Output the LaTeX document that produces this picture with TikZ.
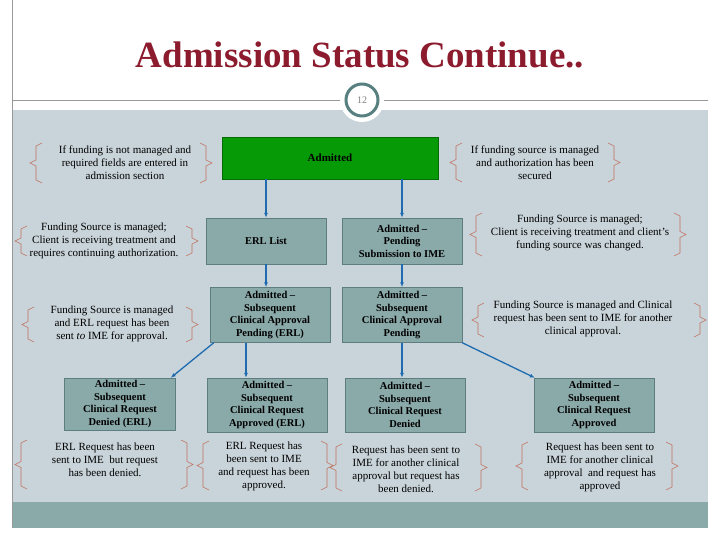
\documentclass[tikz,border=0pt]{standalone}
\usepackage{fontspec}
\setmainfont{Liberation Serif}
\definecolor{titlered}{HTML}{8C1B2E}
\definecolor{panel}{HTML}{C9D4DA}
\definecolor{strip}{HTML}{8AA9A9}
\definecolor{boxfill}{HTML}{8AA9A9}
\definecolor{boxline}{HTML}{5E7D7F}
\definecolor{admgreen}{HTML}{079A07}
\definecolor{flow}{HTML}{1E6BB0}
\definecolor{brak}{HTML}{C0705F}
\tikzset{
  state/.style={draw=boxline,fill=boxfill,align=center,font=\fontsize{10.5}{12.5}\selectfont\bfseries,inner sep=1pt},
  note/.style={align=center,font=\fontsize{11}{13}\selectfont,inner sep=0pt},
  flowline/.style={draw=flow,line width=1.3pt,-{Latex[length=5pt,width=4pt]}},
  brakline/.style={draw=brak,line width=0.6pt}
}
\usetikzlibrary{arrows.meta}
% left and right brackets: x, top y, bottom y
\newcommand{\lbrak}[3]{\draw[brakline] (#1+12,#2) -- (#1+6,#2+3) -- (#1+6,{(#2+#3)/2-3}) -- (#1,{(#2+#3)/2}) -- (#1+6,{(#2+#3)/2+3}) -- (#1+6,#3-3) -- (#1+12,#3);}
\newcommand{\rbrak}[3]{\draw[brakline] (#1-12,#2) -- (#1-6,#2+3) -- (#1-6,{(#2+#3)/2-3}) -- (#1,{(#2+#3)/2}) -- (#1-6,{(#2+#3)/2+3}) -- (#1-6,#3-3) -- (#1-12,#3);}
\begin{document}
\begin{tikzpicture}[x=1pt,y=1pt,yscale=-1]
  \useasboundingbox (0,0) rectangle (720,540);
  \fill[white] (0,0) rectangle (720,540);

  %frame and title
  \fill[panel] (12,110) rectangle (708,502);
  \fill[strip] (12,502) rectangle (708,528);
  \draw[gray!80] (12,0) -- (12,528);
  \draw[gray!80] (12,100) -- (708,100);
  \node[font=\fontsize{37}{40}\selectfont\bfseries,text=titlered] (title) at (360,55) {Admission Status Continue..};
  \fill[white] (362,100) circle (22);
  \draw[gray!70!teal,line width=3pt] (362,100) circle (16);
  \node[font=\fontsize{10}{11}\selectfont,text=gray] (page) at (362,100) {12};

  %states
  \node[draw=admgreen!70!black,fill=admgreen,minimum width=216,minimum height=42,font=\fontsize{11}{13}\selectfont\bfseries] (adm) at (330,158) {Admitted};
  \node[state,minimum width=120,minimum height=46] (erl) at (266,241) {ERL List};
  \node[state,minimum width=120,minimum height=46] (pend) at (402,241) {Admitted --\\Pending\\Submission to IME};
  \node[state,minimum width=120,minimum height=55] (apperl) at (270,315) {Admitted --\\Subsequent\\Clinical Approval\\Pending (ERL)};
  \node[state,minimum width=120,minimum height=55] (app) at (402,315) {Admitted --\\Subsequent\\Clinical Approval\\Pending};
  \node[state,minimum width=111,minimum height=52] (denerl) at (120,404) {Admitted --\\Subsequent\\Clinical Request\\Denied (ERL)};
  \node[state,minimum width=120,minimum height=54] (okerl) at (267,405) {Admitted --\\Subsequent\\Clinical Request\\Approved (ERL)};
  \node[state,minimum width=120,minimum height=54] (den) at (405,405) {Admitted --\\Subsequent\\Clinical Request\\Denied};
  \node[state,minimum width=120,minimum height=54] (ok) at (594,405) {Admitted --\\Subsequent\\Clinical Request\\Approved};

  %connectors
  \draw[flowline] (erl.north |- adm.south) -- (erl.north);
  \draw[flowline] (pend.north |- adm.south) -- (pend.north);
  \draw[flowline] (erl.south) -- (erl.south |- apperl.north);
  \draw[flowline] (pend.south) -- (app.north);
  \draw[flowline] ([xshift=-24]apperl.south) -- ([xshift=-21]okerl.north);
  \draw[flowline] ([xshift=4]apperl.south west) -- ([xshift=-5]denerl.north east);
  \draw[flowline] (app.south) -- (app.south |- den.north);
  \draw[flowline] (app.south east) -- ([xshift=1]ok.north west);

  %notes
  \node[note] (n1) at (125,163) {If funding is not managed and\\required fields are entered in\\admission section};
  \lbrak{30}{143}{183} \rbrak{212}{143}{183}
  \node[note] (n2) at (104,241) {Funding Source is managed;\\Client is receiving treatment and\\requires continuing authorization.};
  \lbrak{15}{226}{256} \rbrak{198}{226}{256}
  \node[note] (n3) at (112,324) {Funding Source is managed\\and ERL request has been\\sent \textit{to} IME for approval.};
  \lbrak{22}{307}{342} \rbrak{198}{307}{342}
  \node[note] (n4) at (535,163) {If funding source is managed\\and authorization has been\\secured};
  \lbrak{450}{143}{182} \rbrak{620}{143}{182}
  \node[note] (n5) at (580,233) {Funding Source is managed;\\Client is receiving treatment and client's\\funding source was changed.};
  \lbrak{470}{213}{256} \rbrak{686}{213}{256}
  \node[note] (n6) at (583,319) {Funding Source is managed and Clinical\\request has been sent to IME for another\\clinical approval.};
  \lbrak{472}{303}{337} \rbrak{706}{303}{337}
  \node[note] (n7) at (105,460) {ERL Request has been\\sent to IME\ \ but request\\has been denied.};
  \lbrak{15}{440}{489} \rbrak{193}{440}{489}
  \node[note] (n8) at (264,466) {ERL Request has\\been sent to IME\\and request has been\\approved.};
  \lbrak{197}{441}{490} \rbrak{333}{441}{490}
  \node[note] (n9) at (406,469) {Request has been sent to\\IME for another clinical\\approval but request has\\been denied.};
  \lbrak{330}{444}{491} \rbrak{487}{444}{491}
  \node[note] (n10) at (600,467) {Request has been sent to\\IME for another clinical\\approval\ \ and request has\\approved};
  \lbrak{516}{442}{490} \rbrak{678}{442}{490}
\end{tikzpicture}
\end{document}
